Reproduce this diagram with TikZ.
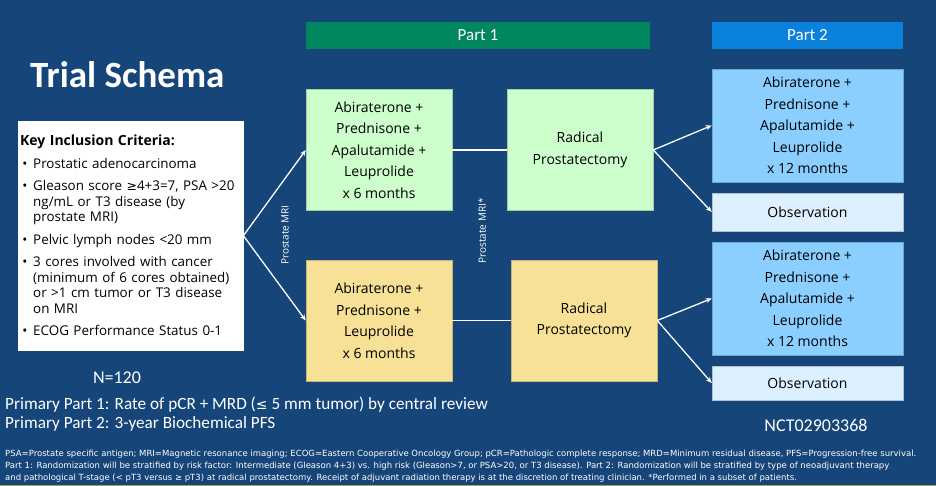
\documentclass[tikz,border=0pt]{standalone}
\usepackage{fontspec}
\setmainfont{Open Sans}
\newfontfamily\calfont{Carlito}
\newfontfamily\notefont{DejaVu Sans}
\newfontfamily\symfont{DejaVu Sans}
\usetikzlibrary{arrows.meta,positioning}

\definecolor{slidebg}{RGB}{21,69,121}
\definecolor{partone}{RGB}{0,135,95}
\definecolor{parttwo}{RGB}{10,130,220}
\definecolor{greenbox}{RGB}{204,255,204}
\definecolor{yellowbox}{RGB}{247,225,150}
\definecolor{bluebox}{RGB}{138,207,255}
\definecolor{obsbox}{RGB}{221,240,255}
\definecolor{stripe}{RGB}{170,160,90}

\newcommand{\critem}[1]{\par\vspace{7pt}\hangindent=13pt\hangafter=1\noindent\makebox[13pt][l]{\,•}#1}

\begin{document}
\begin{tikzpicture}[x=1pt,y=-1pt,>={Stealth[length=6pt,width=5pt]},
 arm/.style={draw=#1!80!black,fill=#1,line width=0.5pt,inner sep=0pt,align=center,
  minimum width=146pt,minimum height=121pt,font=\fontsize{14}{21.5}\selectfont},
 parttwobox/.style={draw=#1!80!black,fill=#1,line width=0.5pt,inner sep=0pt,align=center,
  minimum width=191pt,font=\fontsize{14}{21.5}\selectfont},
 partbar/.style={fill=#1,inner sep=0pt,minimum height=27pt,text=white,font=\calfont\fontsize{17}{17}\selectfont},
 conn/.style={draw=white,line width=1.3pt},
 mri/.style={text=white,rotate=90,font=\fontsize{10}{10}\selectfont},
 whitetext/.style={text=white,inner sep=0pt,anchor=base west}]
\fill[slidebg] (0,0) rectangle (936,486);
\useasboundingbox (0,0) rectangle (936,486);
\fill[stripe] (0,484.5) rectangle (936,486);

% title and part headers
\node[text=white,anchor=base west,inner sep=0pt,font=\calfont\bfseries\fontsize{37}{37}\selectfont] (title) at (30,88) {Trial Schema};
\node[partbar=partone,minimum width=344pt] (part1) at (478,35.5) {Part 1};
\node[partbar=parttwo,minimum width=191pt] (part2) at (807.5,35.5) {Part 2};

% inclusion criteria
\node[draw=white,fill=white,anchor=north west,minimum width=225pt,minimum height=229pt,
 text width=221pt,inner xsep=2pt,inner ysep=0pt,align=left,font=\fontsize{13.4}{15.5}\selectfont] (crit) at (18,121)
 {{\fontsize{14}{15.5}\selectfont\textbf{Key Inclusion Criteria:}}
 \critem{Prostatic adenocarcinoma}
 \critem{\mbox{Gleason score {\symfont\fontsize{12.5}{15.5}\selectfont ≥}4+3=7, PSA >20}\newline ng/mL or T3 disease (by\newline prostate MRI)}
 \critem{Pelvic lymph nodes <20 mm}
 \critem{3 cores involved with cancer\newline (minimum of 6 cores obtained)\newline or >1 cm tumor or T3 disease\newline on MRI}
 \critem{ECOG Performance Status 0-1}};

% part 1 arms
\node[arm=greenbox] (armA) at (379,150) {Abiraterone +\\Prednisone +\\Apalutamide +\\Leuprolide\\x 6 months};
\node[arm=yellowbox] (armB) at (379,320.5) {Abiraterone +\\Prednisone +\\Leuprolide\\x 6 months};
\node[arm=greenbox] (rpA) at (580,150) {Radical\\Prostatectomy};
\node[arm=yellowbox] (rpB) at (584,320.5) {Radical\\Prostatectomy};

% part 2 arms
\node[parttwobox=bluebox,minimum height=113pt] (adjA) at (807.5,125.5) {Abiraterone +\\Prednisone +\\Apalutamide +\\Leuprolide\\x 12 months};
\node[parttwobox=obsbox,minimum height=38pt] (obsA) at (807.5,212) {Observation};
\node[parttwobox=bluebox,minimum height=113pt] (adjB) at (807.5,298.5) {Abiraterone +\\Prednisone +\\Apalutamide +\\Leuprolide\\x 12 months};
\node[parttwobox=obsbox,minimum height=34pt] (obsB) at (807.5,383) {Observation};

% connectors
\draw[conn,->] (crit.east) -- (armA.west);
\draw[conn,->] (crit.east) -- (armB.west);
\draw[conn] (armA.east) -- (rpA.west);
\draw[conn] (armB.east) -- (rpB.west);
\draw[conn,->] (rpA.east) -- (adjA.west);
\draw[conn,->] (rpA.east) -- (obsA.west);
\draw[conn,->] (rpB.east) -- (adjB.west);
\draw[conn,->] (rpB.east) -- (obsB.west);

\node[mri] (mri1) at (285,235) {Prostate MRI};
\node[mri] (mri2) at (482,231) {Prostate MRI*};

% endpoints and notes
\node[text=white,inner sep=0pt,anchor=base,font=\calfont\fontsize{18}{18}\selectfont] (size) at (117,383) {N=120};
\node[whitetext,font=\calfont\fontsize{17.2}{17}\selectfont] (prim1) at (5,409) {Primary Part 1: Rate of pCR + MRD ({\symfont\fontsize{14}{16}\selectfont ≤} 5 mm tumor) by central review};
\node[whitetext,font=\calfont\fontsize{17.2}{17}\selectfont] (prim2) at (5,428) {Primary Part 2: 3-year Biochemical PFS};
\node[text=white,inner sep=0pt,anchor=base,font=\calfont\fontsize{18}{18}\selectfont] (nct) at (816,431) {NCT02903368};

\node[text=white,inner sep=0pt,anchor=north west,align=left,font=\notefont\fontsize{8.5}{12}\selectfont] (notes) at (5,450)
 {PSA=Prostate specific antigen; MRI=Magnetic resonance imaging; ECOG=Eastern Cooperative Oncology Group; pCR=Pathologic complete response; MRD=Minimum residual disease, PFS=Progression-free survival.\\
 Part 1: Randomization will be stratified by risk factor: Intermediate (Gleason 4+3) vs. high risk (Gleason>7, or PSA>20, or T3 disease). Part 2: Randomization will be stratified by type of neoadjuvant therapy\\
 and pathological T-stage (< pT3 versus ≥ pT3) at radical prostatectomy. Receipt of adjuvant radiation therapy is at the discretion of treating clinician. *Performed in a subset of patients.};
\end{tikzpicture}
\end{document}
